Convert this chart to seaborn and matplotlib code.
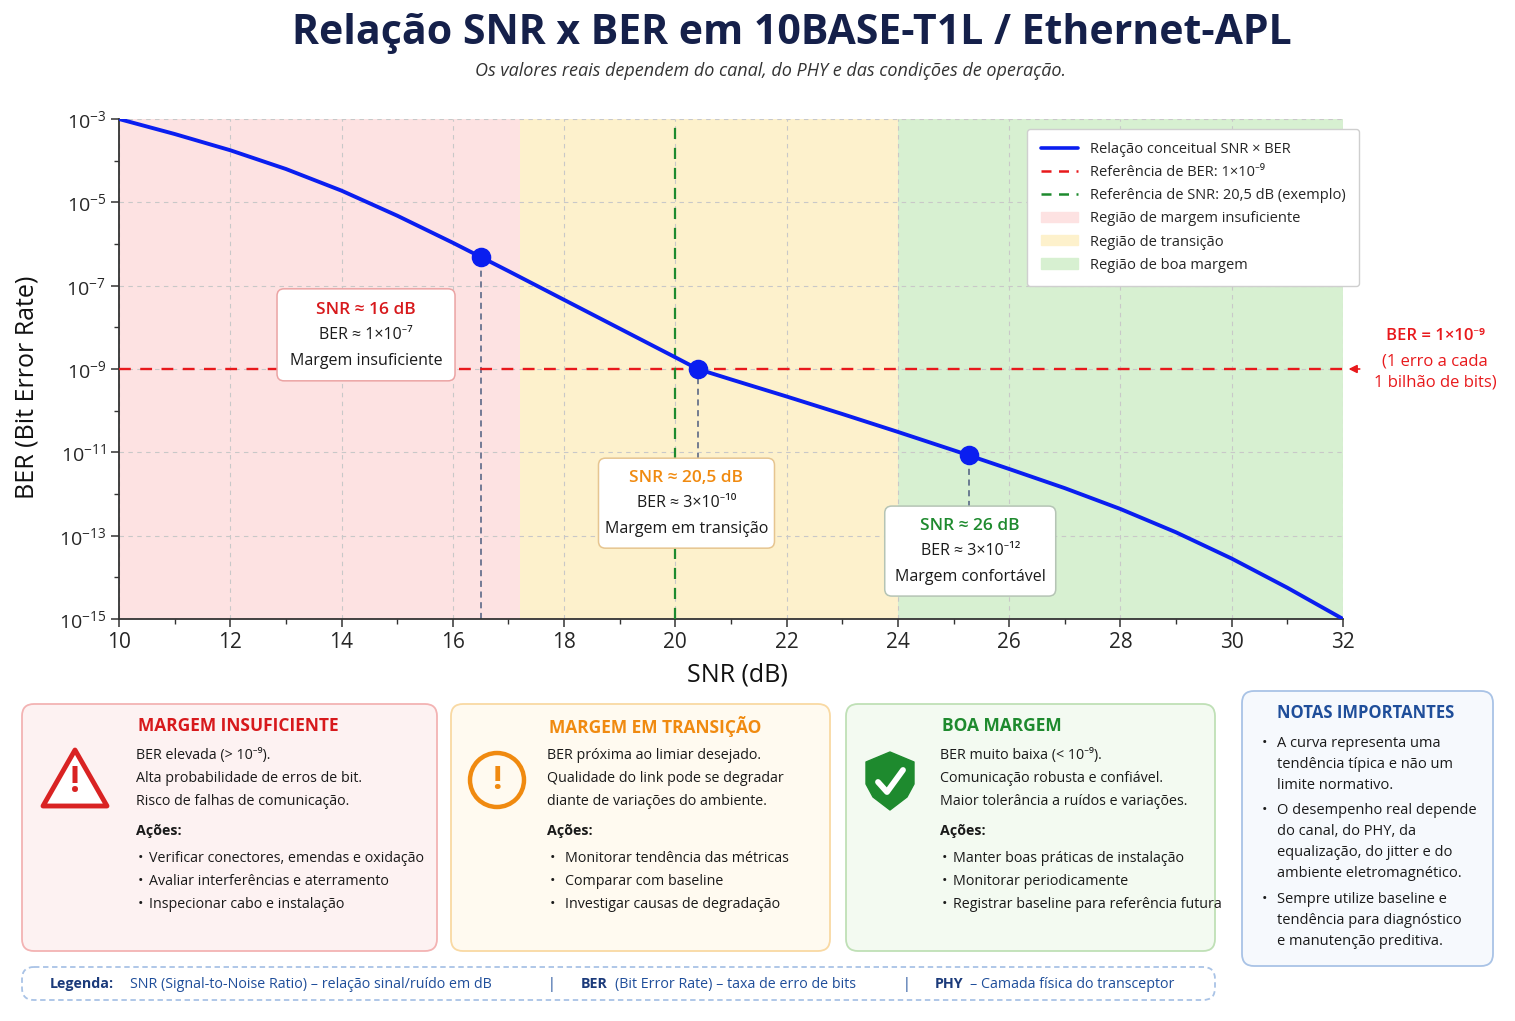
import numpy as np
import pandas as pd
import matplotlib
matplotlib.use("Agg")
import matplotlib.pyplot as plt
import seaborn as sns
from matplotlib.patches import FancyBboxPatch, Polygon, Circle, Patch
from matplotlib.lines import Line2D
from matplotlib.ticker import FixedLocator, FuncFormatter, NullFormatter
from matplotlib.transforms import IdentityTransform

# conceptual SNR x BER curve (log10 of BER)
snr_db = [10, 11, 12, 13, 14, 15, 16, 16.5, 17, 18, 19, 20, 20.4, 21, 22,
          23, 24, 25, 25.27, 26, 27, 28, 29, 30, 31, 32]
log_ber = [-3.0, -3.36, -3.75, -4.20, -4.72, -5.32, -5.97, -6.31, -6.65, -7.34,
           -8.03, -8.72, -9.0, -9.25, -9.66, -10.08, -10.51, -10.95, -11.07,
           -11.40, -11.86, -12.36, -12.92, -13.55, -14.25, -15.0]

# highlighted points
mark_snr = [16.5, 20.4, 25.27]
mark_log_ber = [-6.31, -9.0, -11.07]
mark_titles = ["SNR ≈ 16 dB", "SNR ≈ 20,5 dB", "SNR ≈ 26 dB"]
mark_ber_txt = ["BER ≈ 1×10⁻⁷", "BER ≈ 3×10⁻¹⁰", "BER ≈ 3×10⁻¹²"]
mark_status = ["Margem insuficiente", "Margem em transição", "Margem confortável"]

# regions and reference lines
region_edges = [10, 17.2, 24, 32]
region_labels = ["Região de margem insuficiente", "Região de transição", "Região de boa margem"]
ber_ref = 1e-9
snr_ref_line = 20

x_ticks = [10, 12, 14, 16, 18, 20, 22, 24, 26, 28, 30, 32]
y_decades = [-15, -13, -11, -9, -7, -5, -3]

RED, ORANGE, GREEN, BLUE = "#d7191c", "#f08a10", "#1e8a2e", "#1f4e9a"
CURVE = "#0a1ef0"
REGION_COLORS = ["#fde2e2", "#fdf1cc", "#d7f0d1"]

sns.set_theme(style="ticks")
plt.rcParams["font.family"] = ["Open Sans", "Noto Sans", "DejaVu Sans"]
plt.rcParams["mathtext.fontset"] = "custom"
plt.rcParams["mathtext.rm"] = "Open Sans"
plt.rcParams["mathtext.it"] = "Open Sans:italic"
plt.rcParams["mathtext.bf"] = "Open Sans:bold"

W, H = 1515, 1021
fig = plt.figure(figsize=(W / 100, H / 100), dpi=100)
fig.patch.set_facecolor("white")

# overlay axes in pixel coordinates for header and panels
ov = fig.add_axes([0, 0, 1, 1], zorder=0)
ov.set_xlim(0, W)
ov.set_ylim(H, 0)
ov.axis("off")

ax = fig.add_axes([119 / W, 1 - 619 / H, (1343 - 119) / W, 500 / H], zorder=1)
ax.set_facecolor("white")
ax.set_yscale("log")
ax.set_xlim(10, 32)
ax.set_ylim(1e-15, 1e-3)
ax.set_autoscale_on(False)

# regions
for i in range(3):
    ax.axvspan(region_edges[i], region_edges[i + 1], color=REGION_COLORS[i], lw=0, zorder=0)

ax.grid(True, which="major", ls=(0, (4, 4)), color="#c8c8c8", lw=0.8)
ax.set_axisbelow(True)

df = pd.DataFrame({"snr": snr_db, "ber": 10 ** np.array(log_ber)})
sns.lineplot(data=df, x="snr", y="ber", ax=ax, color=CURVE, lw=2.8, zorder=4)

ax.axhline(ber_ref, color="#e8191c", ls=(0, (5, 4)), lw=1.7, zorder=3)
ax.axvline(snr_ref_line, color="#1e8a2e", ls=(0, (5, 4)), lw=1.6, zorder=3)

marks = pd.DataFrame({"snr": mark_snr, "ber": 10 ** np.array(mark_log_ber)})
sns.scatterplot(data=marks, x="snr", y="ber", ax=ax, color=CURVE, s=170,
                edgecolor=CURVE, zorder=6)

# annotation boxes (center x, center log10 y, size in px, bottom of the guide line)
box_x = [14.44, 20.2, 25.3]
box_logy = [-8.18, -12.22, -13.37]
box_size = [(178, 92), (176, 90), (171, 90)]
guide_end = [-15, -11.15, -12.3]
box_edges = ["#eba3a3", "#e6c590", "#b5c4b5"]
title_cols = [RED, ORANGE, GREEN]
for i in range(3):
    ax.vlines(mark_snr[i], 10 ** guide_end[i], 10 ** mark_log_ber[i],
              color="#4d5d80", ls=(0, (4, 3)), lw=1.1, zorder=2)
    cx, cy = ax.transData.transform((box_x[i], 10 ** box_logy[i]))
    bw, bh = box_size[i]
    ax.add_artist(FancyBboxPatch((cx - bw / 2, cy - bh / 2), bw, bh,
                                 boxstyle="round,pad=0,rounding_size=7",
                                 fc="white", ec=box_edges[i], lw=1.1,
                                 transform=IdentityTransform(), zorder=7, clip_on=False))
    ax.annotate(mark_titles[i], (box_x[i], 10 ** box_logy[i]), xytext=(0, 25),
                textcoords="offset pixels", ha="center", va="center",
                fontsize=12.5, fontweight="semibold", color=title_cols[i], zorder=8)
    ax.annotate(mark_ber_txt[i], (box_x[i], 10 ** box_logy[i]), xytext=(0, 0),
                textcoords="offset pixels", ha="center", va="center",
                fontsize=11.5, color="#1a1a1a", zorder=8)
    ax.annotate(mark_status[i], (box_x[i], 10 ** box_logy[i]), xytext=(0, -26),
                textcoords="offset pixels", ha="center", va="center",
                fontsize=11.5, color="#1a1a1a", zorder=8)

# BER reference callout on the right
ax.annotate("", xy=(32.05, ber_ref), xytext=(32.35, ber_ref),
            arrowprops=dict(arrowstyle="-|>", color="#e8191c", lw=1.2),
            annotation_clip=False)
ax.annotate("BER = 1×10⁻⁹", (32, ber_ref), xytext=(92, 33), textcoords="offset pixels",
            ha="center", va="center", fontsize=12, fontweight="semibold",
            color="#e8191c", annotation_clip=False)
ax.annotate("(1 erro a cada\n1 bilhão de bits)", (32, ber_ref), xytext=(92, -3),
            textcoords="offset pixels", ha="center", va="center", fontsize=12,
            color="#e8191c", linespacing=1.4, annotation_clip=False)

ax.xaxis.set_major_locator(FixedLocator(x_ticks))
ax.xaxis.set_minor_locator(FixedLocator([v + 1 for v in x_ticks[:-1]]))
ax.yaxis.set_major_locator(FixedLocator([10.0 ** d for d in y_decades]))
ax.yaxis.set_minor_locator(FixedLocator([10.0 ** (d + 1) for d in y_decades[:-1]]))
ax.yaxis.set_major_formatter(FuncFormatter(lambda v, p: r"$10^{%d}$" % round(np.log10(v))))
ax.yaxis.set_minor_formatter(NullFormatter())
ax.tick_params(axis="x", which="major", labelsize=15, length=6, width=1.1, color="#333333")
ax.tick_params(axis="y", which="major", labelsize=14, length=6, width=1.1, color="#333333")
ax.tick_params(which="minor", length=3.5, width=1, color="#333333")
ax.set_xlabel("")
ax.set_ylabel("")
sns.despine(ax=ax)
for s in ["left", "bottom"]:
    ax.spines[s].set_color("#333333")
    ax.spines[s].set_linewidth(1.3)

handles = [
    Line2D([], [], color=CURVE, lw=2.6),
    Line2D([], [], color="#e8191c", lw=1.8, ls=(0, (4, 3))),
    Line2D([], [], color="#1e8a2e", lw=1.8, ls=(0, (4, 3))),
] + [Patch(fc=c, ec=c) for c in REGION_COLORS]
labels = ["Relação conceitual SNR × BER", "Referência de BER: 1×10⁻⁹",
          "Referência de SNR: 20,5 dB (exemplo)"] + region_labels
leg = ax.legend(handles, labels, loc="upper right", bbox_to_anchor=(1.019, 0.994),
                fontsize=10.5, frameon=True, fancybox=True, framealpha=1,
                edgecolor="#cfcfcf", borderpad=0.9, labelspacing=0.55, handlelength=2.6)
leg.set_zorder(10)

# axis labels and header
fig.text(737 / W, 1 - 675 / H, "SNR (dB)", ha="center", va="center", fontsize=18, color="#111111")
fig.text(27 / W, 1 - 387 / H, "BER (Bit Error Rate)", ha="center", va="center",
         rotation=90, fontsize=18, color="#111111")
fig.text(792 / W, 1 - 34 / H, "Relação SNR x BER em 10BASE-T1L / Ethernet-APL",
         ha="center", va="center", fontsize=29.5, fontweight="bold", color="#15204a")
fig.text(770 / W, 1 - 71 / H,
         "Os valores reais dependem do canal, do PHY e das condições de operação.",
         ha="center", va="center", fontsize=13, style="italic", color="#333333")


# bottom panels
def panel(x0, y0, x1, y1, fc, ec, ls="-"):
    ov.add_patch(FancyBboxPatch((x0, y0), x1 - x0, y1 - y0,
                                boxstyle="round,pad=0,rounding_size=12",
                                fc=fc, ec=ec, lw=1.3, ls=ls))


def txt(x, y, s, **kw):
    kw.setdefault("fontsize", 10.3)
    kw.setdefault("color", "#1a1a1a")
    ov.text(x, y, s, ha=kw.pop("ha", "left"), va="center", **kw)


cards = [
    dict(box=(22, 704, 437, 951), fc="#fdf2f2", ec="#f3b3b3", col=RED, tx=136,
         title="MARGEM INSUFICIENTE",
         body=["BER elevada (> 10⁻⁹).", "Alta probabilidade de erros de bit.",
               "Risco de falhas de comunicação."],
         acts=["Verificar conectores, emendas e oxidação",
               "Avaliar interferências e aterramento", "Inspecionar cabo e instalação"],
         bx=138, btx=149),
    dict(box=(451, 704, 830, 951), fc="#fffaf0", ec="#f9d9a3", col=ORANGE, tx=547,
         title="MARGEM EM TRANSIÇÃO",
         body=["BER próxima ao limiar desejado.", "Qualidade do link pode se degradar",
               "diante de variações do ambiente."],
         acts=["Monitorar tendência das métricas", "Comparar com baseline",
               "Investigar causas de degradação"],
         bx=550, btx=565),
    dict(box=(846, 704, 1215, 951), fc="#f3faf1", ec="#bfe0b6", col=GREEN, tx=940,
         title="BOA MARGEM",
         body=["BER muito baixa (< 10⁻⁹).", "Comunicação robusta e confiável.",
               "Maior tolerância a ruídos e variações."],
         acts=["Manter boas práticas de instalação", "Monitorar periodicamente",
               "Registrar baseline para referência futura"],
         bx=942, btx=953),
]
for c in cards:
    panel(*c["box"], c["fc"], c["ec"])
    txt(c["tx"] + 2, 726, c["title"], fontsize=12.5, fontweight="bold", color=c["col"])
    for k, line in enumerate(c["body"]):
        txt(c["tx"], 755 + 23 * k, line)
    txt(c["tx"], 831, "Ações:", fontweight="bold")
    for k, line in enumerate(c["acts"]):
        txt(c["bx"], 858 + 23 * k, "•")
        txt(c["btx"], 858 + 23 * k, line)

# icons
ov.add_patch(Polygon([(75, 750), (43, 806), (107, 806)], closed=True, fc="white",
                     ec="#d92323", lw=3.5, joinstyle="round"))
txt(75, 783, "!", ha="center", fontsize=25, fontweight="bold", color="#d92323")
ov.add_patch(Circle((497, 780), 27, fc="none", ec=ORANGE, lw=3.2))
txt(497, 780, "!", ha="center", fontsize=24, fontweight="bold", color=ORANGE)
ov.add_patch(Polygon([(866, 762), (890, 752), (914, 762), (914, 784), (907, 797),
                      (890, 810), (873, 797), (866, 784)], closed=True,
                     fc="#1e8a2e", ec="#1e8a2e", lw=1, joinstyle="round"))
ov.add_line(Line2D([878, 887, 903], [782, 792, 770], color="white", lw=4.2,
                   solid_capstyle="round", solid_joinstyle="round"))

# notes panel
panel(1242, 691, 1493, 966, "#f6f9fd", "#a9c3e6")
txt(1366, 713, "NOTAS IMPORTANTES", ha="center", fontsize=12, fontweight="bold", color=BLUE)
notes = [["A curva representa uma", "tendência típica e não um", "limite normativo."],
         ["O desempenho real depende", "do canal, do PHY, da",
          "equalização, do jitter e do", "ambiente eletromagnético."],
         ["Sempre utilize baseline e", "tendência para diagnóstico",
          "e manutenção preditiva."]]
note_y = [743, 810, 899]
for y0, lines in zip(note_y, notes):
    txt(1262, y0, "•", fontsize=10.5)
    for k, line in enumerate(lines):
        txt(1277, y0 + 21 * k, line, fontsize=10.5)

# footer legend
panel(22, 967, 1215, 1000, "white", "#a9c3e6", ls=(0, (3, 2)))
fy = 984
txt(50, fy, "Legenda:", fontweight="bold", color="#1b3a7a")
txt(130, fy, "SNR (Signal-to-Noise Ratio) – relação sinal/ruído em dB", color=BLUE)
txt(548, fy, "|", color=BLUE)
txt(581, fy, "BER", fontweight="bold", color="#1b3a7a")
txt(615, fy, "(Bit Error Rate) – taxa de erro de bits", color=BLUE)
txt(903, fy, "|", color=BLUE)
txt(935, fy, "PHY", fontweight="bold", color="#1b3a7a")
txt(970, fy, "– Camada física do transceptor", color=BLUE)

fig.savefig("out.png", dpi=100, facecolor="white")
